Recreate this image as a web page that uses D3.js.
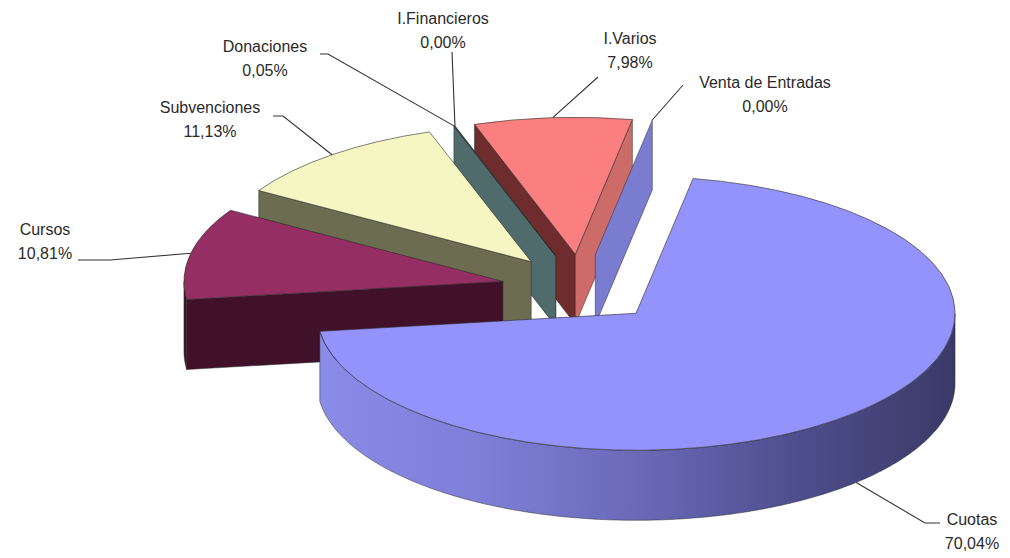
<!DOCTYPE html>
<html>
<head>
<meta charset="utf-8">
<script src="https://cdn.jsdelivr.net/npm/d3@7"></script>
<style>
  body { margin: 0; background: #fff; }
  svg { display: block; }
  text { font-family: "Liberation Sans", Arial, sans-serif; font-size: 16px; fill: #2a2a2a; text-anchor: middle; }
</style>
</head>
<body>
<div id="graphic"></div>
<script>
// clockwise, starting at the Cuotas slice
const categories = ["Cuotas", "Cursos", "Subvenciones", "Donaciones", "I.Financieros", "I.Varios", "Venta de Entradas"]
const values = [70.04, 10.81, 11.13, 0.05, 0.00, 7.98, 0.00]
const valueLabels = ["70,04%", "10,81%", "11,13%", "0,05%", "0,00%", "7,98%", "0,00%"]

const topColors = ["#9393fb", "#952f63", "#f6f6c2", "#4f6b6b", "#4f6b6b", "#fb7f7f", "#7a7cd0"]
const startWallColors = ["#7a7ad0", "#401128", "#6c6c50", "#4f6b6b", "#4f6b6b", "#6e2c2c", "#7a7cd0"]
const endWallColors = ["#7a7ad0", "#401128", "#6c6c50", "#4f6b6b", "#4f6b6b", "#cc6b67", "#7a7cd0"]
const drawOrder = [5, 6, 4, 3, 2, 1, 0]

// label centre x, first baseline y, then the leader line elbow points
const labelPos = [
    { x: 972, y: 525, leader: [[940, 523], [925, 523]] },
    { x: 45, y: 235, leader: [[78, 260], [110, 260]] },
    { x: 210, y: 113, leader: [[273, 116], [283, 116]] },
    { x: 265, y: 52, leader: [[320, 54], [328, 54]] },
    { x: 443, y: 24, leader: [[452, 52]] },
    { x: 630, y: 44, leader: [[598, 77]] },
    { x: 765, y: 88, leader: [[683, 85]] }
]

const width = 1010, height = 558
const cx = 581, cy = 288.5, rx = 319, ry = 137, depth = 70, explode = 0.25
const startAngle = 10.3 * Math.PI / 180

const svg = d3.select("#graphic")
    .append("svg")
    .attr("width", width)
    .attr("height", height)

const grad = svg.append("defs").append("linearGradient")
    .attr("id", "rimGrad")
    .attr("gradientUnits", "userSpaceOnUse")
    .attr("x1", 318).attr("x2", 955)
    .attr("y1", 0).attr("y2", 0)
grad.selectAll("stop")
    .data([[0, "#8b8be8"], [0.25, "#7f7fd8"], [0.5, "#6a6ab8"], [0.75, "#4e4e8e"], [1, "#3a3a68"]])
    .join("stop")
    .attr("offset", d => d[0])
    .attr("stop-color", d => d[1])

const pie = d3.pie()
    .sort(null)
    .startAngle(startAngle)
    .endAngle(startAngle + 2 * Math.PI)

const slices = pie(values).map((d, i) => {
    const mid = (d.startAngle + d.endAngle) / 2
    return {
        ...d, i, mid,
        ax: cx + explode * rx * Math.sin(mid),
        ay: cy - explode * ry * Math.cos(mid)
    }
})

const px = (s, a) => s.ax + rx * Math.sin(a)
const py = (s, a) => s.ay - ry * Math.cos(a)

const facePath = (s, a) => d3.line()([
    [s.ax, s.ay], [px(s, a), py(s, a)],
    [px(s, a), py(s, a) + depth], [s.ax, s.ay + depth]
]) + "Z"

// outer wall, only the part that faces the viewer
const rimPath = s => {
    const a0 = Math.max(s.startAngle, Math.PI / 2)
    const a1 = Math.min(s.endAngle, 3 * Math.PI / 2)
    if (a1 <= a0) return null
    const angles = d3.range(a0, a1, 0.01).concat([a1])
    const top = angles.map(a => [px(s, a), py(s, a)])
    const bottom = angles.slice().reverse().map(a => [px(s, a), py(s, a) + depth])
    return d3.line()(top.concat(bottom)) + "Z"
}

const arc = d3.arc().innerRadius(0).outerRadius(rx)

const walls = { stroke: "#2a2a2a", "stroke-width": 0.5 }

drawOrder.forEach(i => {
    const s = slices[i]
    const g = svg.append("g")

    if (Math.sin(s.startAngle) < 0) {
        g.append("path").attr("d", facePath(s, s.startAngle))
            .attr("fill", startWallColors[i])
            .attr("stroke", walls.stroke).attr("stroke-width", walls["stroke-width"])
    }
    if (Math.sin(s.endAngle) > 0) {
        g.append("path").attr("d", facePath(s, s.endAngle))
            .attr("fill", endWallColors[i])
            .attr("stroke", walls.stroke).attr("stroke-width", walls["stroke-width"])
    }
    const rim = rimPath(s)
    if (rim) {
        g.append("path").attr("d", rim)
            .attr("fill", i === 0 ? "url(#rimGrad)" : startWallColors[i])
            .attr("stroke", walls.stroke).attr("stroke-width", walls["stroke-width"])
    }
    // flat slices have no top to speak of
    if (values[i] > 0.01) {
        g.append("path")
            .attr("d", arc(s))
            .attr("transform", `translate(${s.ax},${s.ay}) scale(1,${ry / rx})`)
            .attr("fill", topColors[i])
            .attr("stroke", "#2a2a2a")
            .attr("stroke-width", 0.6)
            .attr("vector-effect", "non-scaling-stroke")
    }
})

// leader lines end on the slice edge at its middle angle
slices.forEach(s => {
    const front = Math.cos(s.mid) < 0
    const end = [px(s, s.mid), py(s, s.mid) + (front ? depth : 0)]
    svg.append("path")
        .attr("d", d3.line()(labelPos[s.i].leader.concat([end])))
        .attr("fill", "none")
        .attr("stroke", "#333")
        .attr("stroke-width", 1.1)
})

const labels = svg.append("g").selectAll("text")
    .data(categories)
    .join("text")
    .attr("x", (d, i) => labelPos[i].x)
    .attr("y", (d, i) => labelPos[i].y)
labels.append("tspan").text(d => d)
labels.append("tspan")
    .attr("x", (d, i) => labelPos[i].x)
    .attr("dy", 24)
    .text((d, i) => valueLabels[i])
</script>
</body>
</html>
